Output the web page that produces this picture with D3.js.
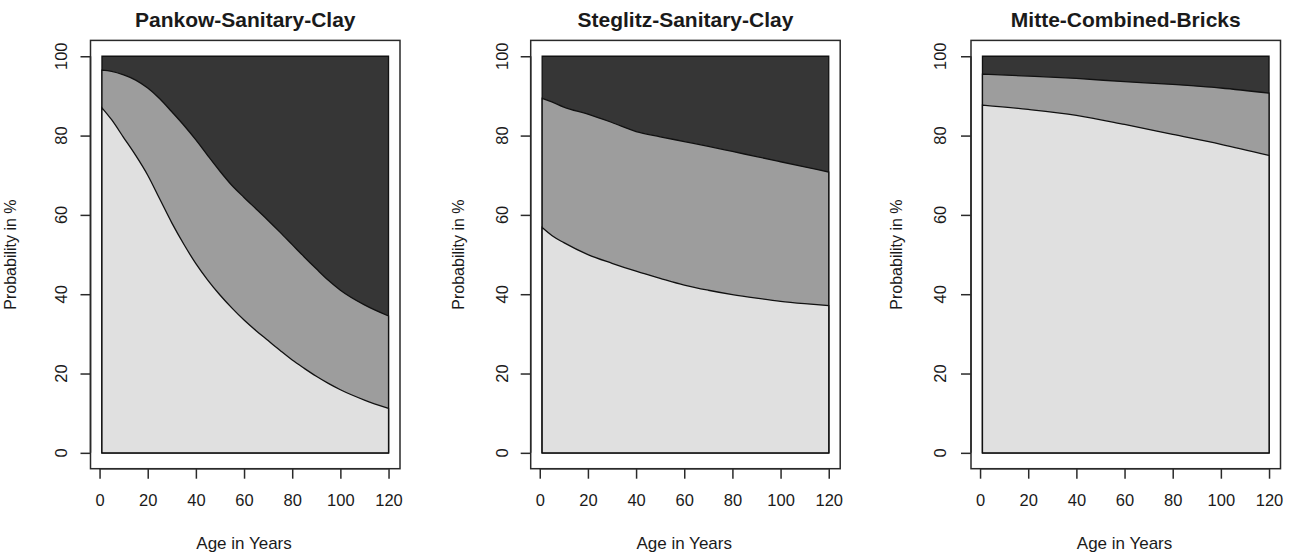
<!DOCTYPE html>
<html>
<head>
<meta charset="utf-8">
<script src="https://cdn.jsdelivr.net/npm/d3@7/dist/d3.min.js"></script>
<style>
  html, body { margin: 0; padding: 0; background: #ffffff; }
  svg { display: block; }
  text { font-family: "Liberation Sans", Arial, sans-serif; fill: #1a1a1a; }
</style>
</head>
<body>
<div id="chart"></div>
<script>
// ---------------- data ----------------
const titles = ["Pankow-Sanitary-Clay", "Steglitz-Sanitary-Clay", "Mitte-Combined-Bricks"];
const xTicks = [0, 20, 40, 60, 80, 100, 120];
const yTicks = [0, 20, 40, 60, 80, 100];
const xLabel = "Age in Years";
const yLabel = "Probability in %";

// Pankow-Sanitary-Clay
const pankowAges  = [1, 5, 10, 15, 20, 25, 30, 35, 40, 45, 50, 55, 60, 65, 70, 75, 80, 85, 90, 95, 100, 110, 120];
const pankowLower = [87.0, 84.0, 79.5, 75.0, 70.0, 64.0, 58.0, 52.6, 47.7, 43.5, 39.8, 36.5, 33.5, 30.8, 28.3, 25.8, 23.4, 21.3, 19.3, 17.5, 15.9, 13.3, 11.2];
const pankowUpper = [96.5, 96.2, 95.3, 94.0, 92.0, 89.3, 86.0, 82.6, 78.9, 74.9, 71.0, 67.4, 64.4, 61.5, 58.6, 55.6, 52.5, 49.4, 46.4, 43.5, 41.0, 37.3, 34.5];

// Steglitz-Sanitary-Clay
const steglitzAges  = [1, 5, 10, 20, 30, 40, 50, 60, 70, 80, 90, 100, 110, 120];
const steglitzLower = [56.8, 54.8, 53.0, 50.0, 47.8, 45.8, 44.0, 42.3, 41.0, 39.9, 39.0, 38.2, 37.6, 37.1];
const steglitzUpper = [89.4, 88.5, 87.2, 85.4, 83.3, 81.0, 79.7, 78.5, 77.3, 76.0, 74.7, 73.4, 72.1, 70.8];

// Mitte-Combined-Bricks
const mitteAges  = [1, 20, 40, 60, 80, 100, 120];
const mitteLower = [87.7, 86.6, 85.1, 82.8, 80.3, 77.8, 75.0];
const mitteUpper = [95.5, 95.0, 94.4, 93.6, 92.9, 92.0, 90.7];

const agesList  = [pankowAges, steglitzAges, mitteAges];
const lowerList = [pankowLower, steglitzLower, mitteLower];
const upperList = [pankowUpper, steglitzUpper, mitteUpper];

// ---------------- layout ----------------
const W = 1290, H = 555;
const boxLefts = [90.5, 530.7, 971];
const boxW = 309.5;
const boxTop = 40.4, boxBottom = 468.7;
const yTickLabelX = [60.8, 502.5, 940];
const yTitleBaseX = [15.5, 463.5, 902];

const colDark = "#363636", colMid = "#9d9d9d", colLight = "#e0e0e0";

const svg = d3.select("#chart").append("svg")
  .attr("width", W).attr("height", H)
  .attr("viewBox", `0 0 ${W} ${H}`);

titles.forEach((title, i) => {
  const ages = agesList[i], lower = lowerList[i], upper = upperList[i];
  const L = boxLefts[i];
  const x = d3.scaleLinear().domain([-3.76, 124.76]).range([L, L + boxW]);
  const y = d3.scaleLinear().domain([-4, 104]).range([boxBottom, boxTop]);
  const g = svg.append("g");

  const pts = ages.map((a, k) => ({ age: a, lo: lower[k], up: upper[k] }));
  const area = acc => d3.area()
    .x(d => x(d.age)).y0(y(0)).y1(d => y(acc(d)))
    .curve(d3.curveMonotoneX);

  // top (dark) band: full 0..100 region
  g.append("path").datum(pts)
    .attr("d", area(() => 100))
    .attr("fill", colDark).attr("stroke", "#111").attr("stroke-width", 1.3);
  // middle band
  g.append("path").datum(pts)
    .attr("d", area(d => d.up))
    .attr("fill", colMid).attr("stroke", "#111").attr("stroke-width", 1.3);
  // bottom band
  g.append("path").datum(pts)
    .attr("d", area(d => d.lo))
    .attr("fill", colLight).attr("stroke", "#111").attr("stroke-width", 1.3);

  // frame box
  g.append("rect")
    .attr("x", L).attr("y", boxTop)
    .attr("width", boxW).attr("height", boxBottom - boxTop)
    .attr("fill", "none").attr("stroke", "#2a2a2a").attr("stroke-width", 1.5);

  // x axis
  const xa = g.append("g").attr("transform", `translate(0,${boxBottom})`)
    .call(d3.axisBottom(x).tickValues(xTicks).tickSize(10).tickPadding(15.5).tickFormat(d3.format("d")));
  xa.select(".domain").remove();
  xa.selectAll(".tick line").attr("stroke", "#2a2a2a").attr("stroke-width", 1.5);
  xa.selectAll(".tick text").attr("font-size", 16.5).attr("fill", "#1a1a1a")
    .style("font-family", '"Liberation Sans", Arial, sans-serif');
  g.append("line")
    .attr("x1", x(xTicks[0])).attr("x2", x(xTicks[xTicks.length - 1]))
    .attr("y1", boxBottom).attr("y2", boxBottom)
    .attr("stroke", "#2a2a2a").attr("stroke-width", 1.5);

  // y axis
  const ya = g.append("g").attr("transform", `translate(${L},0)`)
    .call(d3.axisLeft(y).tickValues(yTicks).tickSize(10).tickFormat(() => ""));
  ya.select(".domain").remove();
  ya.selectAll(".tick line").attr("stroke", "#2a2a2a").attr("stroke-width", 1.5);
  g.append("line")
    .attr("x1", L).attr("x2", L)
    .attr("y1", y(yTicks[0])).attr("y2", y(yTicks[yTicks.length - 1]))
    .attr("stroke", "#2a2a2a").attr("stroke-width", 1.5);
  g.selectAll(".ylab").data(yTicks).enter().append("text")
    .attr("class", "ylab")
    .attr("transform", d => `translate(${yTickLabelX[i] + 5.9},${y(d)}) rotate(-90)`)
    .attr("text-anchor", "middle")
    .attr("font-size", 16.5)
    .text(d => d);

  // titles
  g.append("text")
    .attr("x", L + boxW / 2).attr("y", 26.5)
    .attr("text-anchor", "middle")
    .attr("font-size", 21).attr("font-weight", "bold")
    .attr("fill", "#111")
    .text(title);
  g.append("text")
    .attr("x", x(60)).attr("y", 548.5)
    .attr("text-anchor", "middle")
    .attr("font-size", 17)
    .text(xLabel);
  g.append("text")
    .attr("transform", `translate(${yTitleBaseX[i]},${(boxTop + boxBottom) / 2}) rotate(-90)`)
    .attr("text-anchor", "middle")
    .attr("font-size", 16)
    .text(yLabel);
});
</script>
</body>
</html>
